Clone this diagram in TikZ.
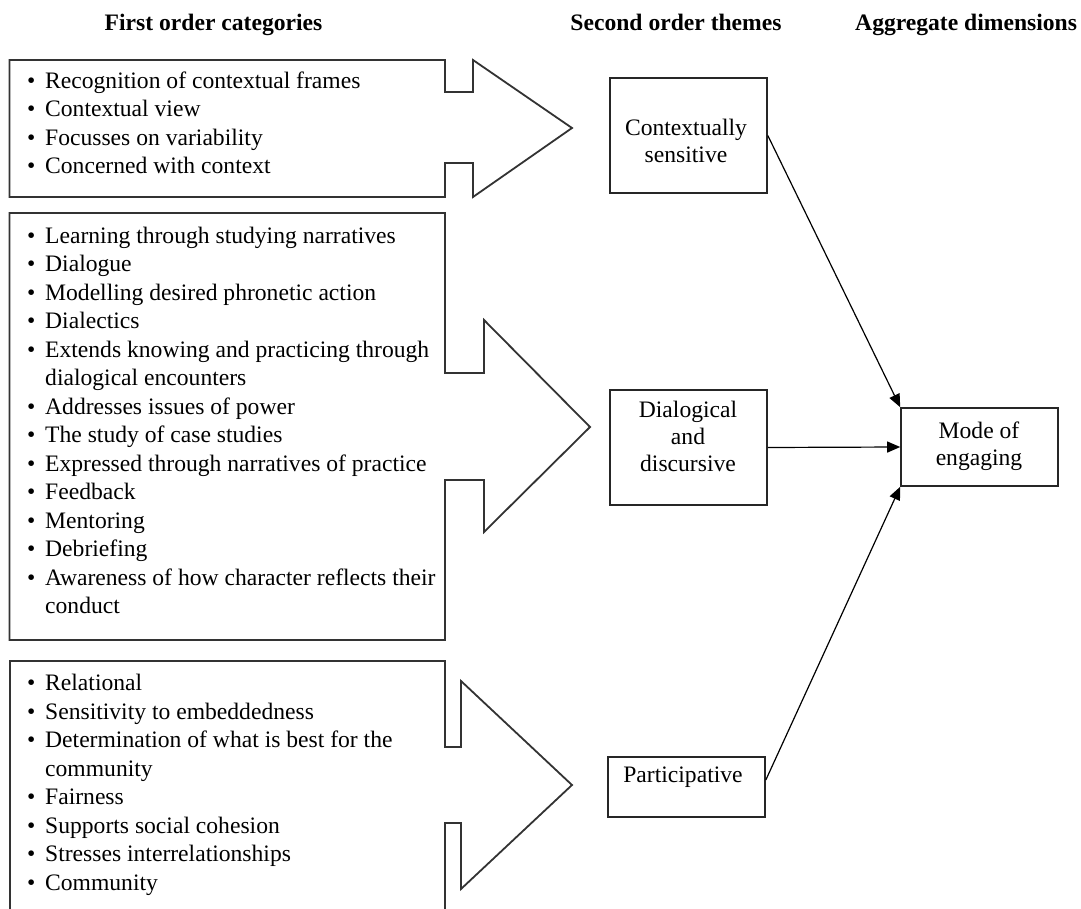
\documentclass[tikz,border=0pt]{standalone}
\usepackage{fontspec}
\setmainfont{Liberation Serif}
\usetikzlibrary{arrows.meta}
\newcommand\bul{\makebox[18pt][l]{\textbullet}}
\newcommand\cont{\hspace*{18pt}}
\begin{document}
\begin{tikzpicture}[x=1pt,y=-1pt,
  outline/.style={draw=black!80, line width=1.8pt, line join=miter},
  listtext/.style={anchor=north west, inner sep=0pt, align=left,
    font=\fontsize{23.6}{28.5}\selectfont},
  head/.style={anchor=base, inner sep=0pt, font=\fontsize{23.6}{28}\selectfont\bfseries},
  themebox/.style={draw=black!85, line width=1.6pt, inner sep=0pt, minimum width=157pt},
  boxtext/.style={anchor=north, inner sep=0pt, align=center,
    font=\fontsize{23.6}{27}\selectfont},
  link/.style={draw=black, line width=1.2pt, -{Triangle[length=13pt,width=11pt]}}
]
\path[use as bounding box] (0,0) rectangle (1081,909);
\clip (0,0) rectangle (1081,909);

% column headings
\node[head] (h1) at (213.5,31) {First order categories};
\node[head] (h2) at (676,31) {Second order themes};
\node[head, anchor=base west] (h3) at (855,31) {Aggregate dimensions};

% block arrows holding the first order categories
\draw[outline] (9.5,60) -- (445,60) -- (445,92) -- (473,92) -- (473,60) -- (572,128)
  -- (473,197) -- (473,163) -- (445,163) -- (445,197) -- (9.5,197) -- cycle;
\draw[outline] (9.5,213) -- (445,213) -- (445,373) -- (484,373) -- (484,320) -- (590,427)
  -- (484,532) -- (484,480) -- (445,480) -- (445,640) -- (9.5,640) -- cycle;
\draw[outline] (10,930) -- (10,661) -- (445,661) -- (445,747) -- (461,747) -- (461,681)
  -- (572,785) -- (461,889) -- (461,823) -- (445,823) -- (445,930);

% category lists
\node[listtext] (l1) at (27,68.05) {\strut\bul Recognition of contextual frames\\
  \bul Contextual view\\
  \bul Focusses on variability\\
  \bul Concerned with context};
\node[listtext] (l2) at (27,223.05) {\strut\bul Learning through studying narratives\\
  \bul Dialogue\\
  \bul Modelling desired phronetic action\\
  \bul Dialectics\\
  \bul Extends knowing and practicing through\\
  \cont dialogical encounters\\
  \bul Addresses issues of power\\
  \bul The study of case studies\\
  \bul Expressed through narratives of practice\\
  \bul Feedback\\
  \bul Mentoring\\
  \bul Debriefing\\
  \bul Awareness of how character reflects their\\
  \cont conduct};
\node[listtext] (l3) at (27,670.75) {\strut\bul Relational\\
  \bul Sensitivity to embeddedness\\
  \bul Determination of what is best for the\\
  \cont community\\
  \bul Fairness\\
  \bul Supports social cohesion\\
  \bul Stresses interrelationships\\
  \bul Community};

% second order themes and aggregate dimension
\node[themebox, minimum height=115pt] (cs) at (688.5,135.5) {};
\node[themebox, minimum height=115pt] (dd) at (688.5,447.5) {};
\node[themebox, minimum height=60pt] (pp) at (686.5,787) {};
\node[themebox, minimum height=78pt] (me) at (979.5,447) {};

\node[boxtext] (cst) at (686,116.1) {\strut Contextually\\sensitive};
\node[boxtext] (ddt) at (688,398.1) {\strut Dialogical\\and\\discursive};
\node[boxtext] (ppt) at (683,763.1) {\strut Participative};
\node[boxtext] (met) at (979,419.1) {\strut Mode of\\engaging};

% links to the aggregate dimension
\draw[link] (cs.east) -- (me.north west);
\draw[link] (dd.east) -- (me.west);
\draw[link] ([yshift=7pt]pp.east) -- (me.south west);
\end{tikzpicture}
\end{document}
